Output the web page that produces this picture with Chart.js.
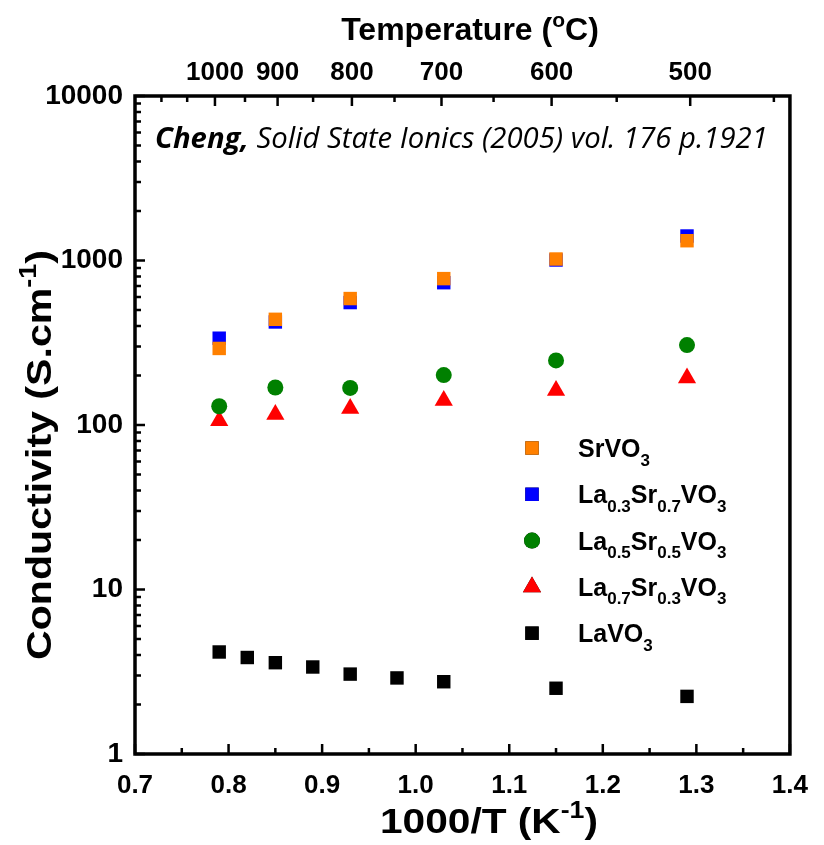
<!DOCTYPE html>
<html>
<head>
<meta charset="utf-8">
<script src="https://cdn.jsdelivr.net/npm/chart.js@4"></script>
<style>
  body { margin: 0; background: #fff; }
  #wrap { width: 824px; height: 845px; }
</style>
</head>
<body>
<div id="wrap"><canvas id="grafico"></canvas></div>
<script>
// x positions (1000/T) of the main measurements
const invT = [0.79, 0.85, 0.93, 1.03, 1.15, 1.29];
const srvo3 = [292, 439, 587, 776, 1021, 1319];
const la03sr07 = [337, 423, 555, 733, 1007, 1409];
const la05sr05 = [130, 169, 168, 201, 247, 306];
const la07sr03 = [106, 116, 126, 141, 162, 193];
// LaVO3 has more points
const invTLaVO3 = [0.79, 0.82, 0.85, 0.89, 0.93, 0.98, 1.03, 1.15, 1.29];
const lavo3 = [4.17, 3.86, 3.59, 3.38, 3.06, 2.90, 2.75, 2.51, 2.24];

// tick labels
const xTicks = [0.7, 0.8, 0.9, 1.0, 1.1, 1.2, 1.3, 1.4];
const xMinor = [0.75, 0.85, 0.95, 1.05, 1.15, 1.25, 1.35];
const yDecades = [1, 10, 100, 1000, 10000];
const tempLabels = [1000, 900, 800, 700, 600, 500];
const tempMinor = [1100, 1050, 950, 850, 750, 650, 550, 450];

// legend names: [text, 1 = subscript]
const names = [
    [['SrVO', 0], ['3', 1]],
    [['La', 0], ['0.3', 1], ['Sr', 0], ['0.7', 1], ['VO', 0], ['3', 1]],
    [['La', 0], ['0.5', 1], ['Sr', 0], ['0.5', 1], ['VO', 0], ['3', 1]],
    [['La', 0], ['0.7', 1], ['Sr', 0], ['0.3', 1], ['VO', 0], ['3', 1]],
    [['LaVO', 0], ['3', 1]]
];

const FONT = "'Liberation Sans', Arial, sans-serif";

function pts(xs, ys) {
    return xs.map((x, i) => ({x: x, y: ys[i]}));
}

function toInvT(t) {
    return 1000 / (t + 273.15);
}

// draw a string made of pieces; kind 0 = normal, 1 = subscript, 2 = superscript
// if fitW is given the text is stretched horizontally to that width
function drawPieces(ctx, pieces, x, y, size, align, fitW) {
    const small = Math.round(size * 0.66);
    let w = 0;
    pieces.forEach(p => {
        ctx.font = 'bold ' + (p[1] ? small : size) + 'px ' + FONT;
        w += ctx.measureText(p[0]).width;
    });
    const k = fitW ? fitW / w : 1;
    ctx.save();
    ctx.translate(x, y);
    ctx.scale(k, 1);
    let cx = align === 'center' ? -w / 2 : 0;
    ctx.textAlign = 'left';
    ctx.textBaseline = 'alphabetic';
    pieces.forEach(p => {
        ctx.font = 'bold ' + (p[1] ? small : size) + 'px ' + FONT;
        let dy = 0;
        if (p[1] === 1) dy = size * 0.34;
        if (p[1] === 2) dy = -size * 0.42;
        ctx.fillText(p[0], cx, dy);
        cx += ctx.measureText(p[0]).width;
    });
    ctx.restore();
}

const marcoPlugin = {
    id: 'marco',
    afterDraw(chart) {
        const ctx = chart.ctx;
        const a = chart.chartArea;
        const sx = chart.scales.x;
        const sy = chart.scales.y;
        ctx.save();
        ctx.strokeStyle = '#000';
        ctx.fillStyle = '#000';

        // ticks pointing inward
        ctx.lineWidth = 2.5;
        ctx.beginPath();
        xTicks.forEach(v => {
            const px = sx.getPixelForValue(v);
            ctx.moveTo(px, a.bottom); ctx.lineTo(px, a.bottom - 10);
        });
        xMinor.forEach(v => {
            const px = sx.getPixelForValue(v);
            ctx.moveTo(px, a.bottom); ctx.lineTo(px, a.bottom - 6);
        });
        tempLabels.forEach(t => {
            const px = sx.getPixelForValue(toInvT(t));
            ctx.moveTo(px, a.top); ctx.lineTo(px, a.top + 10);
        });
        tempMinor.forEach(t => {
            const px = sx.getPixelForValue(toInvT(t));
            ctx.moveTo(px, a.top); ctx.lineTo(px, a.top + 6);
        });
        yDecades.forEach(d => {
            const py = sy.getPixelForValue(d);
            ctx.moveTo(a.left, py); ctx.lineTo(a.left + 10, py);
            if (d < 10000) {
                for (let k = 2; k <= 9; k++) {
                    const pm = sy.getPixelForValue(d * k);
                    ctx.moveTo(a.left, pm); ctx.lineTo(a.left + 6, pm);
                }
            }
        });
        ctx.stroke();

        // frame
        ctx.lineWidth = 3.5;
        ctx.strokeRect(a.left, a.top, a.right - a.left, a.bottom - a.top);

        // axis titles
        drawPieces(ctx, [['Temperature (', 0], ['o', 2], ['C)', 0]], 470, 40, 32, 'center');
        drawPieces(ctx, [['1000/T (K', 0], ['-1', 2], [')', 0]], 489, 833, 35, 'center', 218);
        ctx.save();
        ctx.translate(51, 455);
        ctx.rotate(-Math.PI / 2);
        drawPieces(ctx, [['Conductivity (S.cm', 0], ['-1', 2], [')', 0]], 0, 0, 35, 'center', 410);
        ctx.restore();

        // reference note
        const noteSize = 22;
        ctx.font = 'italic bold ' + noteSize + 'px "Open Sans"';
        const w1 = ctx.measureText('Cheng,').width;
        ctx.font = 'italic ' + noteSize + 'px "Open Sans"';
        const w2 = ctx.measureText(' Solid State Ionics (2005) vol. 176 p.1921').width;
        const k = 613 / (w1 + w2);
        const fs = noteSize * k;
        ctx.textAlign = 'left';
        ctx.textBaseline = 'alphabetic';
        ctx.font = 'italic bold ' + fs + 'px "Open Sans"';
        ctx.fillText('Cheng,', 155, 148);
        ctx.font = 'italic ' + fs + 'px "Open Sans"';
        ctx.fillText(' Solid State Ionics (2005) vol. 176 p.1921', 155 + w1 * k, 148);

        // legend
        chart.data.datasets.forEach((ds, i) => {
            const my = 448 + i * 46.3;
            Chart.helpers.drawPoint(ctx, {
                pointStyle: ds.pointStyle,
                radius: ds.pointRadius,
                borderWidth: 0,
                rotation: 0
            }, 532, my);
            ctx.fillStyle = ds.backgroundColor;
            ctx.fill();
            ctx.fillStyle = '#000';
            drawPieces(ctx, names[i], 578, my + 9, 25, 'left');
        });
        ctx.restore();
    }
};

const ctx = document.getElementById('grafico').getContext('2d');
new Chart(ctx, {
    type: 'scatter',
    data: {
        datasets: [
            {
                label: 'SrVO3',
                data: pts(invT, srvo3),
                backgroundColor: '#ff8000',
                pointStyle: 'rect',
                pointRadius: 9.5,
                borderWidth: 0
            },
            {
                label: 'La0.3Sr0.7VO3',
                data: pts(invT, la03sr07),
                backgroundColor: '#0000ff',
                pointStyle: 'rect',
                pointRadius: 9.5,
                borderWidth: 0
            },
            {
                label: 'La0.5Sr0.5VO3',
                data: pts(invT, la05sr05),
                backgroundColor: '#008000',
                pointStyle: 'circle',
                pointRadius: 8,
                borderWidth: 0
            },
            {
                label: 'La0.7Sr0.3VO3',
                data: pts(invT, la07sr03),
                backgroundColor: '#ff0000',
                pointStyle: 'triangle',
                pointRadius: 10.5,
                borderWidth: 0
            },
            {
                label: 'LaVO3',
                data: pts(invTLaVO3, lavo3),
                backgroundColor: '#000000',
                pointStyle: 'rect',
                pointRadius: 9.5,
                borderWidth: 0
            }
        ]
    },
    options: {
        responsive: true,
        maintainAspectRatio: false,
        animation: false,
        layout: { padding: { left: 0, right: 30, top: 0, bottom: 0 } },
        plugins: {
            legend: { display: false },
            tooltip: { enabled: false }
        },
        scales: {
            x: {
                type: 'linear',
                position: 'bottom',
                min: 0.7,
                max: 1.4,
                afterFit: s => { s.height = 91; },
                afterBuildTicks: s => { s.ticks = xTicks.map(v => ({value: v})); },
                grid: { display: false, drawTicks: false },
                border: { display: false },
                ticks: {
                    autoSkip: false,
                    maxRotation: 0,
                    padding: 16,
                    color: '#000',
                    font: { family: FONT, size: 26, weight: 'bold' },
                    callback: v => v.toFixed(1)
                }
            },
            x2: {
                type: 'linear',
                position: 'top',
                min: 0.7,
                max: 1.4,
                afterFit: s => { s.height = 96; },
                afterBuildTicks: s => { s.ticks = tempLabels.map(t => ({value: toInvT(t)})); },
                grid: { display: false, drawTicks: false },
                border: { display: false },
                ticks: {
                    autoSkip: false,
                    maxRotation: 0,
                    padding: 8,
                    color: '#000',
                    font: { family: FONT, size: 26, weight: 'bold' },
                    callback: v => String(Math.round(1000 / v - 273.15))
                }
            },
            y: {
                type: 'logarithmic',
                min: 1,
                max: 10000,
                afterFit: s => { s.width = 135; },
                afterBuildTicks: s => { s.ticks = yDecades.map(v => ({value: v})); },
                grid: { display: false, drawTicks: false },
                border: { display: false },
                ticks: {
                    autoSkip: false,
                    padding: 12,
                    color: '#000',
                    font: { family: FONT, size: 28, weight: 'bold' },
                    callback: v => String(v)
                }
            }
        }
    },
    plugins: [marcoPlugin]
});
</script>
</body>
</html>
